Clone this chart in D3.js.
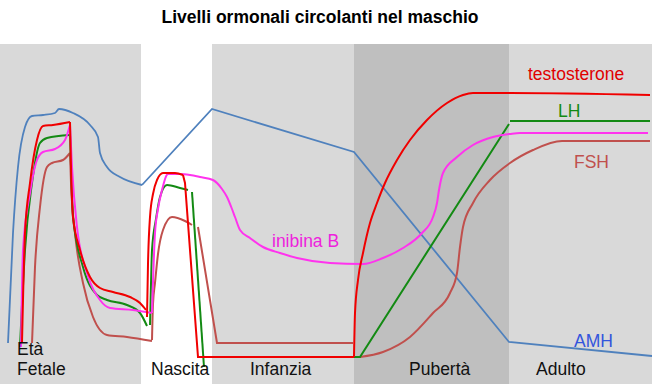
<!DOCTYPE html>
<html>
<head>
    <title>Livelli ormonali</title>
    <script src="https://cdn.jsdelivr.net/npm/d3@7"></script>
    <style>
        body { margin: 0; padding: 0; background: white; }
        text { font-family: "Liberation Sans", Arial, sans-serif; }
    </style>
</head>
<body>
    <div id="chart"></div>
    <script>
        // time axis is schematic (0..652), level axis 0..340
        const stages = ["Età Fetale", "Nascita", "Infanzia", "Pubertà", "Adulto"];
        const stageStart = [0, 141, 212, 354, 509];
        const stageEnd = [141, 212, 354, 509, 652];
        const stageShade = ["light", "none", "light", "dark", "light"];

        // AMH
        const amhFetal = [[8,41],[13,151],[18,217],[25,257],[32,268],[43,269],[55,271],[59,275],[73,271],[90,259],[98,247],[100,231],[107,217],[120,207],[142,199]];
        const amhAfter = [[142,199],[212,275],[354,232],[509,42],[652,28]];
        // testosterone
        const testoFetal = [[22,41],[25,151],[30,201],[37,244],[43,258],[53,259],[70,262]];
        const testoFall = [[70,262],[71,217],[73,167],[80,134],[90,107],[100,96],[113,92],[130,87],[140,81],[146,74]];
        const testoBirth = [[147,67],[148,120],[150,167],[153,190],[157,204],[163,211],[175,211],[183,209]];
        const testoDrop = [[183,209],[185,201],[198,27],[354,27]];
        const testoPuberty = [[354,27],[355,71],[358,104],[363,131],[370,161],[377,181],[385,201],[397,224],[410,244],[427,264],[447,281],[463,289],[473,291],[510,291],[650,289]];
        // LH
        const lhFetal = [[20,37],[25,134],[32,201],[40,241],[47,246],[70,249]];
        const lhFall = [[70,249],[70.5,234],[73,167],[83,117],[97,89],[107,84],[127,79],[140,71],[147,58]];
        const lhBirth = [[150,59],[151,100],[152,134],[156,165],[160,187],[167,199],[180,196],[188,194]];
        const lhDrop = [[192,192],[204,17]];
        const lhAfter = [[204,27],[360,27],[509,260]];
        const lhAdult = [[510,263],[650,263]];
        // inibina B
        const inhFetal = [[21,37],[23,134],[30,191],[37,224],[43,232],[55,235],[65,244],[70,259]];
        const inhFall = [[70,259],[72,217],[77,157],[87,111],[100,84],[110,76],[133,74],[152,71]];
        const inhAfter = [[152,71],[155,151],[158,175],[162,194],[168,210],[180,210],[190,209],[200,207],[213,204],[222,195],[227,187],[232,175],[235,167],[240,154],[250,146],[263,137],[280,131],[297,126],[330,121],[363,120],[383,126],[403,136],[422,151],[433,167],[437,181],[439,194],[443,211],[457,227],[473,239],[493,247],[510,250],[520,251],[648,251]];
        // FSH
        const fshFetal = [[32,41],[35,117],[40,177],[47,217],[52,221],[63,224],[70,231]];
        const fshFall = [[70,231],[71,201],[75,151],[83,101],[93,67],[107,49],[127,47],[152,43]];
        const fshBirth = [[152,44],[153,80],[155,101],[158,130],[163,154],[172,167],[185,163],[192,159]];
        const fshDrop = [[198,157],[217,41],[353,41]];
        const fshPuberty = [[360,27],[383,32],[410,47],[433,71],[450,91],[457,111],[460,137],[463,157],[473,181],[490,204],[510,221],[533,234],[562,243],[650,243]];

        const hormoneNames = ["testosterone", "LH", "FSH", "inibina B", "AMH"];
        const labelAt = [[528,304], [558,267], [574,216], [272,137], [574,37]];

        const width = 652, height = 386;
        const svg = d3.select("#chart").append("svg")
            .attr("width", width)
            .attr("height", height);

        const x = d3.scaleLinear().domain([0, 652]).range([0, 652]);
        const y = d3.scaleLinear().domain([0, 340]).range([384, 44]);

        const shadeColor = { light: "#d9d9d9", dark: "#bfbfbf" };

        svg.selectAll(".stage")
            .data(stages.map((s, i) => ({ name: s, x0: stageStart[i], x1: stageEnd[i], shade: stageShade[i] })))
            .enter()
            .filter(d => d.shade !== "none")
            .append("rect")
            .attr("x", d => x(d.x0))
            .attr("y", y(340))
            .attr("width", d => x(d.x1) - x(d.x0))
            .attr("height", y(0) - y(340))
            .attr("fill", d => shadeColor[d.shade]);

        const smooth = d3.line().x(d => x(d[0])).y(d => y(d[1])).curve(d3.curveMonotoneX);
        const straight = d3.line().x(d => x(d[0])).y(d => y(d[1]));

        const blue = "#4f81bd", brown = "#c0504d", green = "#138a13", pink = "#ff33ee", red = "#f00000";
        const paths = [
            { pts: amhFetal, c: blue, s: true, w: 1.8 },
            { pts: amhAfter, c: blue, s: false, w: 1.8 },
            { pts: fshFetal, c: brown, s: true, w: 2 },
            { pts: fshFall, c: brown, s: true, w: 2 },
            { pts: fshBirth, c: brown, s: true, w: 2 },
            { pts: fshDrop, c: brown, s: false, w: 2 },
            { pts: fshPuberty, c: brown, s: true, w: 2 },
            { pts: lhFetal, c: green, s: true, w: 2 },
            { pts: lhFall, c: green, s: true, w: 2 },
            { pts: lhBirth, c: green, s: true, w: 2 },
            { pts: lhDrop, c: green, s: false, w: 2 },
            { pts: lhAfter, c: green, s: false, w: 2 },
            { pts: lhAdult, c: green, s: false, w: 2 },
            { pts: inhFetal, c: pink, s: true, w: 2 },
            { pts: inhFall, c: pink, s: true, w: 2 },
            { pts: inhAfter, c: pink, s: true, w: 2 },
            { pts: testoFetal, c: red, s: true, w: 2 },
            { pts: testoFall, c: red, s: true, w: 2 },
            { pts: testoBirth, c: red, s: true, w: 2 },
            { pts: testoDrop, c: red, s: false, w: 2 },
            { pts: testoPuberty, c: red, s: true, w: 2 }
        ];

        svg.selectAll(".hormone")
            .data(paths)
            .enter()
            .append("path")
            .attr("class", "hormone")
            .attr("d", d => d.s ? smooth(d.pts) : straight(d.pts))
            .attr("fill", "none")
            .attr("stroke", d => d.c)
            .attr("stroke-width", d => d.w);

        const labelColor = ["#e00000", "#138a13", "#c0504d", "#ee22dd", "#3355dd"];
        svg.selectAll(".hlabel")
            .data(hormoneNames)
            .enter()
            .append("text")
            .attr("x", (d, i) => x(labelAt[i][0]))
            .attr("y", (d, i) => y(labelAt[i][1]))
            .attr("font-size", 17.5)
            .attr("fill", (d, i) => labelColor[i])
            .text(d => d);

        // stage labels
        const stageLabelX = [17, 151, 250, 409, 536];
        svg.selectAll(".slabel")
            .data(stages)
            .enter()
            .append("text")
            .attr("x", (d, i) => x(stageLabelX[i]))
            .attr("y", 375)
            .attr("font-size", 17.5)
            .attr("fill", "#111")
            .each(function (d) {
                const words = d === "Età Fetale" ? ["Età", "Fetale"] : [d];
                const t = d3.select(this);
                if (words.length > 1) {
                    t.append("tspan").attr("x", x(17)).attr("dy", -20).text(words[0]);
                    t.append("tspan").attr("x", x(17)).attr("dy", 20).text(words[1]);
                } else {
                    t.text(words[0]);
                }
            });

        svg.append("text")
            .attr("x", 320)
            .attr("y", 23)
            .attr("text-anchor", "middle")
            .attr("font-size", 17.5)
            .attr("font-weight", "bold")
            .text("Livelli ormonali circolanti nel maschio");
    </script>
</body>
</html>
